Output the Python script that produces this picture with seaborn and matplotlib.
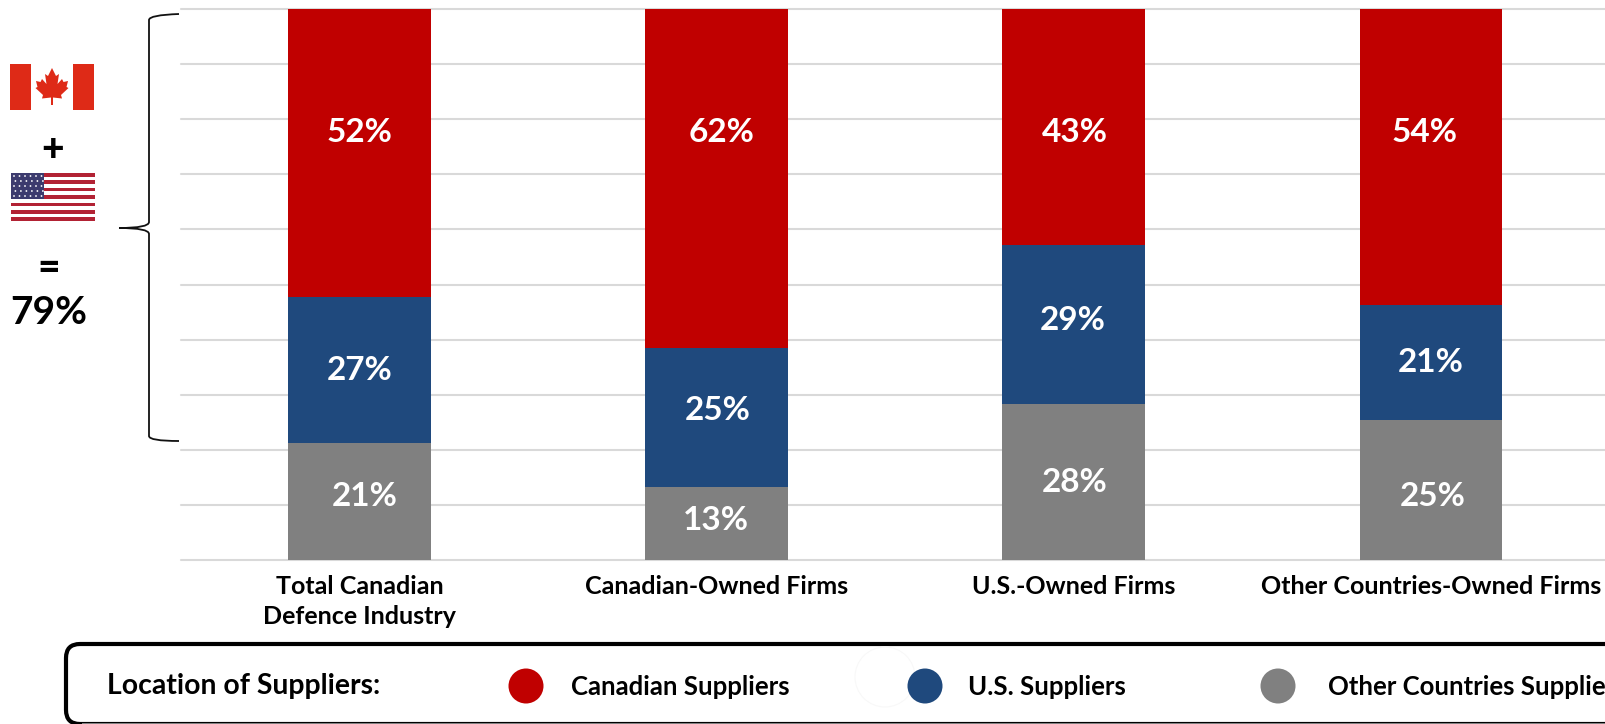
import matplotlib.pyplot as plt
import numpy as np
import pandas as pd
import seaborn as sns
from matplotlib.patches import Circle, FancyBboxPatch, PathPatch, Polygon, Rectangle
from matplotlib.path import Path

WIDTH, HEIGHT = 1606, 724

owners = [
    "Total Canadian\nDefence Industry",
    "Canadian-Owned Firms",
    "U.S.-Owned Firms",
    "Other Countries-Owned Firms",
]
# the printed labels are these rounded
canadian_suppliers = [52.2, 61.6, 42.8, 53.8]
us_suppliers = [26.6, 25.1, 28.9, 20.8]
other_suppliers = [21.2, 13.3, 28.3, 25.4]

RED = "#c00000"
BLUE = "#1f497d"
GRAY = "#808080"
FONT = "Lato"

sns.set_theme(style="white")
plt.rcParams["font.family"] = [FONT, "DejaVu Sans"]

fig = plt.figure(figsize=(WIDTH / 100, HEIGHT / 100), dpi=100, facecolor="white")
ax = fig.add_axes([181 / WIDTH, 1 - 560 / HEIGHT, (WIDTH - 181) / WIDTH, 551 / HEIGHT])

# stacked bars: draw the cumulative totals back to front
stack = pd.DataFrame(
    {
        "owner": owners,
        "other": other_suppliers,
        "us": us_suppliers,
        "canadian": canadian_suppliers,
    }
)
stack["us_top"] = stack["other"] + stack["us"]
stack["canadian_top"] = stack["us_top"] + stack["canadian"]
for column, color in [("canadian_top", RED), ("us_top", BLUE), ("other", GRAY)]:
    sns.barplot(data=stack, x="owner", y=column, color=color, width=0.4, saturation=1,
                linewidth=0, ax=ax)

ax.set_xlim(-0.5, 3.49)
ax.set_ylim(0, 100)
ax.set_yticks(range(0, 101, 10))
ax.set_yticklabels([])
ax.set_xlabel("")
ax.set_ylabel("")
ax.set_axisbelow(True)
ax.grid(axis="y", color="#d9d9d9", linewidth=1.5)
for line in ax.get_ygridlines():
    line.set_clip_on(False)
ax.tick_params(axis="both", length=0)
ax.tick_params(axis="x", pad=11, labelsize=18)
for label in ax.get_xticklabels():
    label.set_fontweight("bold")
    label.set_color("black")
    label.set_linespacing(1.33)
sns.despine(ax=ax, left=True, bottom=True)

# everything around the plot is placed in reference pixels
overlay = fig.add_axes([0, 0, 1, 1], facecolor="none")
overlay.set_xlim(0, WIDTH)
overlay.set_ylim(HEIGHT, 0)
overlay.axis("off")

label_spots = [
    (canadian_suppliers, [(359, 132), (722, 132), (1075, 132), (1425, 132)]),
    (us_suppliers, [(360, 371), (718, 410), (1073, 320), (1431, 363)]),
    (other_suppliers, [(365, 497), (716, 520), (1075, 482), (1433, 497)]),
]
for values, spots in label_spots:
    for value, (x, y) in zip(values, spots):
        overlay.text(x, y, f"{value:.0f}%", color="white", fontsize=24, fontweight="bold",
                     ha="center", va="center")

# flags
overlay.add_patch(Rectangle((10, 64), 84, 46, color="#de2a17", lw=0))
overlay.add_patch(Rectangle((31, 64), 42, 46, color="white", lw=0))
half_leaf = np.array([
    (0, -19), (4, -11), (7, -13), (5.5, -3), (10, -8), (11.5, -5), (16, -6),
    (14.5, 0), (16.5, 1), (9, 8), (10, 11.5), (1, 10.5), (1, 18),
])
leaf = np.vstack([half_leaf, half_leaf[::-1] * [-1, 1]]) + [52, 87]
overlay.add_patch(Polygon(leaf, closed=True, color="#de2a17", lw=0))

overlay.add_patch(Rectangle((11, 173), 84, 48, color="white", lw=0))
for stripe in range(0, 13, 2):
    overlay.add_patch(Rectangle((11, 173 + stripe * 48 / 13), 84, 48 / 13, color="#b22234", lw=0))
overlay.add_patch(Rectangle((11, 173), 33.5, 26, color="#3c3b6e", lw=0))
for row in range(5):
    for col in range(6):
        overlay.add_patch(Circle((14 + col * 5.5 + (row % 2) * 1.4, 176 + row * 5), 0.9,
                                 color="white", lw=0))

overlay.text(53, 149, "+", fontsize=28, fontweight="black", ha="center", va="center", color="black")
overlay.text(49, 268, "=", fontsize=28, fontweight="black", ha="center", va="center", color="black")
overlay.text(49, 313, "79%", fontsize=28, fontweight="bold", ha="center", va="center", color="black")

# brace
brace = Path(
    [(179, 14), (149, 15), (149, 20), (149, 222), (149, 228), (119, 228),
     (149, 228), (149, 234), (149, 436), (149, 441), (179, 441)],
    [Path.MOVETO, Path.CURVE3, Path.CURVE3, Path.LINETO, Path.CURVE3, Path.CURVE3,
     Path.CURVE3, Path.CURVE3, Path.LINETO, Path.CURVE3, Path.CURVE3],
)
overlay.add_patch(PathPatch(brace, fill=False, edgecolor="#111111", lw=1.3))

# legend strip, runs off the right edge of the picture
overlay.add_patch(FancyBboxPatch((66, 644), 1700, 80, boxstyle="round,pad=0,rounding_size=14",
                                 facecolor="white", edgecolor="black", lw=3))
overlay.add_patch(Rectangle((82, 722.5), 1524, 1.5, color="#808080", lw=0, zorder=3))
overlay.add_patch(Circle((885, 677), 30, facecolor="none", edgecolor="#f8f8f8", lw=0.8))
overlay.text(107, 686, "Location of Suppliers:", fontsize=20.4, fontweight="bold", va="center", color="black")
legend_items = [
    ("Canadian Suppliers", RED, 526, 571),
    ("U.S. Suppliers", BLUE, 925, 968),
    ("Other Countries Suppliers", GRAY, 1278, 1328),
]
for name, color, circle_x, text_x in legend_items:
    overlay.add_patch(Circle((circle_x, 686), 17.5, color=color, lw=0))
    overlay.text(text_x, 687, name, fontsize=18.5, fontweight="bold", va="center", color="black", clip_on=True)

fig.savefig("out.png", dpi=100)
